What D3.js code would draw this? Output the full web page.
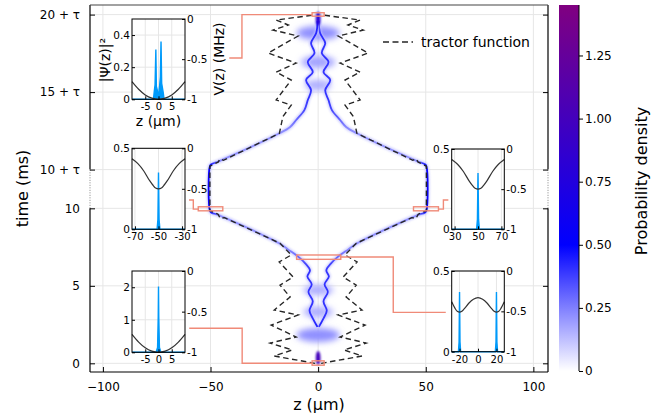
<!DOCTYPE html>
<html><head><meta charset="utf-8">
<script src="https://cdn.jsdelivr.net/npm/d3@7"></script>
<style>body{margin:0;background:#fff}svg{display:block;font-family:"DejaVu Sans",sans-serif}</style>
</head><body><svg id="c" width="652" height="416"></svg>
<script>
// ---------------- data ----------------
const zTicks=[-100,-50,0,50,100];
const tTicks=[0,5,10,12.5,17.5,22.5];
const tTickLabels=["0","5","10","10 + τ","15 + τ","20 + τ"];
const breakT=[10,12.5];
const cbTicks=[0,0.25,0.5,0.75,1.0,1.25];
const cbMax=1.45;

// tractor function (right branch, z in µm, t in ms); left branch is its mirror
const tractorZ=[1.4,20.4,12.1,22.3,10.2,21.8,9.3,20.4,13.0,17.7,11.6,18.1,12.5,17.7,43.5,45.5,46.5,50.3,50.3,46.5,45.5,44.0,18.0,16.4,12.5,19.5,12.5,19.5,10.2,23.2,9.3,20.9,13.9,19.5,2.3];
const tractorT=[0.0,0.47,0.86,1.31,1.70,2.47,3.12,3.44,4.28,5.05,5.57,6.54,6.99,7.74,9.4,9.35,9.62,9.85,12.72,12.98,13.2,13.1,14.84,15.91,16.66,16.99,18.28,18.79,19.37,20.02,21.12,21.5,21.83,22.15,22.47];

// probability-density ridge (right branch) with its density
const strandZ=[0.3,2.5,4.0,2.5,4.5,3.0,5.0,3.8,6.0,9.0,14.0,18.0,46.0,49.6,50.3,50.3,49.6,46.0,18.0,13.0,10.2,6.4,4.8,3.3,5.6,2.5,4.8,1.7,3.3,0.9,0.3];
const strandT=[2.35,2.9,3.4,4.0,4.6,5.1,5.6,6.0,6.45,6.85,7.35,7.74,9.55,9.72,9.85,12.72,12.85,13.05,14.84,15.25,15.7,16.34,16.99,17.63,18.28,18.79,19.44,20.02,20.66,21.31,22.1];
const strandD=[0.45,0.4,0.4,0.4,0.4,0.4,0.4,0.4,0.36,0.3,0.24,0.22,0.22,0.45,0.55,0.55,0.45,0.22,0.22,0.24,0.3,0.36,0.4,0.4,0.4,0.4,0.4,0.4,0.4,0.42,0.45];

// faint breathing lobes (centre t, half-width µm, half-height ms, density)
const blobT=[1.83,3.31,4.73,17.95,19.44,21.31];
const blobW=[10,7,7,6,8,10];
const blobH=[0.45,0.35,0.35,0.35,0.4,0.45];
const blobD=[0.22,0.16,0.16,0.16,0.18,0.22];

// single central column and dense spots
const coreStart=[0,21.8], coreEnd=[2.35,22.5], coreD=[0.55,0.45];
const spotT=[0.35,22.25], spotD=[1.0,0.8];

// marker boxes [z0,z1,t0,t1] and connectors [z,t] pairs
const boxes=[[-2.8,2.8,22.4,22.62],[-2.8,2.8,-0.12,0.16],[-55.7,-44.3,9.84,10.1],[44.3,55.9,9.84,10.1],[-10,10.5,6.71,6.99]];
const connTop=[[-2.8,22.5],[-35.4,22.5],[-35.4,19.7],[-41.3,19.7]];
const connML=[[-60.0,10.54],[-58.0,10.54],[-58.0,9.95],[-55.7,9.95]];
const connMR=[[55.9,9.95],[58.2,9.95],[58.2,10.54],[60.5,10.54]];
const connBL=[[-59.9,2.26],[-35.3,2.26],[-35.3,0.0],[-2.8,0.0]];
const connBR=[[10.5,6.86],[34.9,6.86],[34.9,3.29],[59.3,3.29]];

// inset data
const psiTopZ=[-10,-1.9,-1.6,-1.3,-1.0,-0.8,-0.5,-0.2,0.1,0.4,0.7,0.95,1.2,1.5,1.8,2.1,10];
const psiTopV=[0,0,0.05,0.09,0.31,0.08,0.06,0.02,0.04,0.08,0.14,0.36,0.1,0.07,0.04,0,0];
const psiBotZ=[-10,-0.9,-0.35,-0.1,0,0.1,0.35,0.9,10];
const psiBotV=[0,0,0.15,1.1,2.02,1.1,0.15,0,0];
const psiLZ=[-72.5,-51.2,-50.5,-50,-49.5,-48.8,-27.5];
const psiLV=[0,0,0.06,0.35,0.06,0,0];
const psiRZ=[27.5,48.8,49.5,50,50.5,51.2,72.5];
const psiRV=[0,0,0.06,0.35,0.06,0,0];
const psiSplitZ=[-28.5,-21.2,-20.5,-20,-19.5,-18.8,18.8,19.5,20,20.5,21.2,28.5];
const psiSplitV=[0,0,0.06,0.37,0.06,0,0,0.06,0.37,0.06,0,0];
const potHarmZ=[-10,-7.5,-5,-2.5,0,2.5,5,7.5,10];
const potHarmV=[-0.78,-0.875,-0.945,-0.986,-1,-0.986,-0.945,-0.875,-0.78];
const potLZ=[-72.5,-67.5,-62.5,-57.5,-55,-52.5,-50,-47.5,-45,-42.5,-37.5,-32.5,-27.5];
const potLV=[-0.13,-0.19,-0.28,-0.40,-0.45,-0.49,-0.5,-0.49,-0.45,-0.40,-0.28,-0.19,-0.13];
const potRZ=[27.5,32.5,37.5,42.5,45,47.5,50,52.5,55,57.5,62.5,67.5,72.5];
const potRV=[-0.13,-0.19,-0.28,-0.40,-0.45,-0.49,-0.5,-0.49,-0.45,-0.40,-0.28,-0.19,-0.13];
const potSplitZ=[-28.5,-25,-22.5,-20,-17.5,-15,-10,-5,0,5,10,15,17.5,20,22.5,25,28.5];
const potSplitV=[-0.38,-0.46,-0.50,-0.51,-0.50,-0.47,-0.40,-0.35,-0.33,-0.35,-0.40,-0.47,-0.50,-0.51,-0.50,-0.46,-0.38];

// ---------------- drawing ----------------
const svg=d3.select("#c");
const defs=svg.append("defs");
const X0=90,X1=548,Y0=5,Y1=372;
const x=d3.scaleLinear().domain([-106,106.8]).range([X0,X1]);
const y=d3.scaleLinear().domain([-0.56,23.12]).range([Y1,Y0]);
const color=d3.scaleLinear().domain([0,0.5,cbMax]).range(["#ffffff","#0000ff","#800080"]);
const SALMON="#f08a78";
const fmt=d=>d3.format("~g")(d).replace("−","-");

function blurF(id,s){defs.append("filter").attr("id",id).attr("x","-100%").attr("y","-100%").attr("width","300%").attr("height","300%")
  .append("feGaussianBlur").attr("stdDeviation",s);}
blurF("b3",3.2);blurF("b12",1.2);blurF("b05",0.5);blurF("b1",1.1);
defs.append("clipPath").attr("id","clip").append("rect").attr("x",X0).attr("y",Y0).attr("width",X1-X0).attr("height",Y1-Y0);

// grid
const grid=svg.append("g").attr("stroke","#e6e6e6").attr("stroke-width",1);
grid.selectAll("line.v").data(zTicks).join("line").attr("x1",d=>x(d)).attr("x2",d=>x(d)).attr("y1",Y0).attr("y2",Y1);
grid.selectAll("line.h").data(tTicks).join("line").attr("x1",X0).attr("x2",X1).attr("y1",d=>y(d)).attr("y2",d=>y(d));

// density
const dens=svg.append("g").attr("clip-path","url(#clip)");
const blobs=d3.range(blobT.length);
dens.selectAll("ellipse.blob").data(blobs).join("ellipse")
  .attr("cx",x(0)).attr("cy",i=>y(blobT[i])).attr("rx",i=>x(blobW[i])-x(0)).attr("ry",i=>y(0)-y(blobH[i]))
  .attr("fill",i=>color(blobD[i])).attr("filter","url(#b3)");

const strand=d3.range(strandZ.length);
const ys=y(strandT[0]), ye=y(strandT[strandT.length-1]);
const grad=defs.append("linearGradient").attr("id","sg").attr("gradientUnits","userSpaceOnUse")
  .attr("x1",0).attr("x2",0).attr("y1",ys).attr("y2",ye);
strand.forEach(i=>grad.append("stop").attr("offset",(y(strandT[i])-ys)/(ye-ys)).attr("stop-color",color(strandD[i])));

[1,-1].forEach(s=>{
  const ln=d3.line().x(i=>x(s*strandZ[i])).y(i=>y(strandT[i])).curve(d3.curveCatmullRom.alpha(0.5));
  dens.append("path").attr("d",ln(strand)).attr("fill","none").attr("stroke",color(0.12)).attr("stroke-width",4).attr("opacity",0.8).attr("filter","url(#b12)");
  dens.append("path").attr("d",ln(strand)).attr("fill","none").attr("stroke","url(#sg)").attr("stroke-width",1.8).attr("filter","url(#b05)");
});
// central columns
dens.selectAll("line.core").data(d3.range(coreStart.length)).join("line")
  .attr("x1",x(0)).attr("x2",x(0)).attr("y1",i=>y(coreStart[i])).attr("y2",i=>y(coreEnd[i]))
  .attr("stroke",i=>color(coreD[i])).attr("stroke-width",2.6).attr("filter","url(#b05)");
dens.selectAll("ellipse.spot").data(d3.range(spotT.length)).join("ellipse")
  .attr("cx",x(0)).attr("cy",i=>y(spotT[i])).attr("rx",2.4).attr("ry",i=>y(0)-y(0.45))
  .attr("fill",i=>color(spotD[i])).attr("filter","url(#b1)");

// tractor function
const tr=d3.range(tractorZ.length);
[1,-1].forEach(s=>{
  dens.append("path").attr("d",d3.line().x(i=>x(s*tractorZ[i])).y(i=>y(tractorT[i]))(tr))
    .attr("fill","none").attr("stroke","#262626").attr("stroke-width",1.4).attr("stroke-dasharray","5.5,3.5");
});

// marker boxes and connectors
const ann=svg.append("g").attr("fill","none").attr("stroke",SALMON).attr("stroke-width",1.4);
ann.selectAll("rect").data(boxes).join("rect")
  .attr("x",b=>x(b[0])).attr("width",b=>x(b[1])-x(b[0])).attr("y",b=>y(b[3])).attr("height",b=>y(b[2])-y(b[3]));
const cl=d3.line().x(p=>x(p[0])).y(p=>y(p[1]));
[connTop,connML,connMR,connBL,connBR].forEach(c=>ann.append("path").attr("d",cl(c)));

// frame
const fr=svg.append("g").attr("stroke","#000").attr("stroke-width",1.2).attr("fill","none");
[X0,X1].forEach(xx=>{
  fr.append("line").attr("x1",xx).attr("x2",xx).attr("y1",Y1).attr("y2",y(breakT[0]));
  fr.append("line").attr("x1",xx).attr("x2",xx).attr("y1",y(breakT[1])).attr("y2",Y0);
  fr.append("line").attr("x1",xx).attr("x2",xx).attr("y1",y(breakT[0])).attr("y2",y(breakT[1]))
    .attr("stroke","#777").attr("stroke-width",0.9).attr("stroke-dasharray","1,1.5");
});
fr.append("line").attr("x1",X0).attr("x2",X1).attr("y1",Y1).attr("y2",Y1);
fr.append("line").attr("x1",X0).attr("x2",X1).attr("y1",Y0).attr("y2",Y0).attr("stroke","#444");

// axes
function styleAxis(g,fs){g.select(".domain").remove();g.selectAll("line").attr("stroke","#000");
  g.selectAll("text").attr("font-size",fs).attr("fill","#000").attr("font-family","DejaVu Sans");}
svg.append("g").attr("transform",`translate(0,${Y1})`)
  .call(d3.axisBottom(x).tickValues(zTicks).tickSize(-5).tickPadding(10)).call(g=>styleAxis(g,12));
svg.append("g").attr("transform",`translate(${X0},0)`)
  .call(d3.axisLeft(y).tickValues(tTicks).tickFormat((d,i)=>tTickLabels[i]).tickSize(-5).tickPadding(10)).call(g=>styleAxis(g,12));
svg.append("g").attr("transform",`translate(${X1},0)`)
  .call(d3.axisRight(y).tickValues(tTicks).tickFormat("").tickSize(-5)).call(g=>styleAxis(g,12));

svg.append("text").attr("x",(X0+X1)/2).attr("y",410).attr("text-anchor","middle").attr("font-size",16).text("z (μm)");
svg.append("text").attr("transform",`translate(28,${(Y0+Y1)/2}) rotate(-90)`).attr("text-anchor","middle").attr("font-size",16).text("time (ms)");

// legend
svg.append("line").attr("x1",383).attr("x2",413).attr("y1",42).attr("y2",42).attr("stroke","#262626").attr("stroke-width",1.5).attr("stroke-dasharray","6,3.5");
svg.append("text").attr("x",421).attr("y",47).attr("font-size",14).text("tractor function");

// insets
function inset(o){
  const gx=d3.scaleLinear().domain(o.xd).range([o.x0,o.x1]);
  const gl=d3.scaleLinear().domain(o.yd).range([o.y1,o.y0]);
  const gr=d3.scaleLinear().domain([-1,0]).range([o.y1,o.y0]);
  const g=svg.append("g");
  g.append("rect").attr("x",o.x0).attr("y",o.y0).attr("width",o.x1-o.x0).attr("height",o.y1-o.y0).attr("fill","#fff");
  g.selectAll("line.gv").data(o.xt).join("line").attr("x1",d=>gx(d)).attr("x2",d=>gx(d)).attr("y1",o.y0).attr("y2",o.y1).attr("stroke","#e6e6e6");
  g.selectAll("line.gh").data(o.yt).join("line").attr("x1",o.x0).attr("x2",o.x1).attr("y1",d=>gl(d)).attr("y2",d=>gl(d)).attr("stroke","#e6e6e6");
  const pi=d3.range(o.pz.length);
  g.append("path").attr("d",d3.area().x(i=>gx(o.pz[i])).y0(gl(0)).y1(i=>gl(o.pv[i]))(pi)).attr("fill","#009afa");
  g.append("path").attr("d",d3.line().x(i=>gx(o.pz[i])).y(i=>gl(o.pv[i]))(pi)).attr("fill","none").attr("stroke","#009afa").attr("stroke-width",1.4);
  const vi=d3.range(o.vz.length);
  g.append("path").attr("d",d3.line().x(i=>gx(o.vz[i])).y(i=>gr(o.vv[i])).curve(d3.curveMonotoneX)(vi)).attr("fill","none").attr("stroke","#333").attr("stroke-width",1.2);
  g.append("rect").attr("x",o.x0).attr("y",o.y0).attr("width",o.x1-o.x0).attr("height",o.y1-o.y0).attr("fill","none").attr("stroke","#000").attr("stroke-width",1);
  g.append("g").attr("transform",`translate(0,${o.y1})`).call(d3.axisBottom(gx).tickValues(o.xt).tickFormat(fmt).tickSize(-3).tickPadding(4)).call(a=>styleAxis(a,10));
  g.append("g").attr("transform",`translate(${o.x0},0)`).call(d3.axisLeft(gl).tickValues(o.yt).tickFormat(fmt).tickSize(-3).tickPadding(2)).call(a=>styleAxis(a,10.5));
  g.append("g").attr("transform",`translate(${o.x1},0)`).call(d3.axisRight(gr).tickValues([-1,-0.5,0]).tickFormat(fmt).tickSize(-3).tickPadding(2)).call(a=>styleAxis(a,10.5));
  return g;
}
inset({x0:132,x1:185,y0:19,y1:99.3,xd:[-10,10],xt:[-5,0,5],yd:[0,0.5],yt:[0,0.2,0.4],pz:psiTopZ,pv:psiTopV,vz:potHarmZ,vv:potHarmV});
inset({x0:132,x1:185,y0:148.3,y1:229.3,xd:[-72.5,-27.5],xt:[-70,-50,-30],yd:[0,0.5],yt:[0,0.5],pz:psiLZ,pv:psiLV,vz:potLZ,vv:potLV});
inset({x0:132,x1:185,y0:271,y1:352.3,xd:[-10,10],xt:[-5,0,5],yd:[0,2.5],yt:[0,1,2],pz:psiBotZ,pv:psiBotV,vz:potHarmZ,vv:potHarmV});
inset({x0:451.7,x1:504.3,y0:149,y1:229.3,xd:[27.5,72.5],xt:[30,50,70],yd:[0,0.5],yt:[0,0.5],pz:psiRZ,pv:psiRV,vz:potRZ,vv:potRV});
inset({x0:451.7,x1:504.3,y0:271,y1:351.7,xd:[-28.5,28.5],xt:[-20,0,20],yd:[0,0.5],yt:[0,0.5],pz:psiSplitZ,pv:psiSplitV,vz:potSplitZ,vv:potSplitV});
svg.append("text").attr("x",158.5).attr("y",126).attr("text-anchor","middle").attr("font-size",14).text("z (μm)");
svg.append("text").attr("transform","translate(110,60) rotate(-90)").attr("text-anchor","middle").attr("font-size",14).text("|Ψ(z)|²");
svg.append("text").attr("transform","translate(224,59) rotate(-90)").attr("text-anchor","middle").attr("font-size",14).text("V(z) (MHz)");

// colorbar
const CB0=559,CB1=579,cbY=d3.scaleLinear().domain([0,cbMax]).range([371,5]);
const cg=defs.append("linearGradient").attr("id","cbg").attr("x1",0).attr("x2",0).attr("y1",1).attr("y2",0);
color.domain().forEach(v=>cg.append("stop").attr("offset",v/cbMax).attr("stop-color",color(v)));
svg.append("rect").attr("x",CB0).attr("y",5).attr("width",CB1-CB0).attr("height",366).attr("fill","url(#cbg)");
svg.append("g").attr("transform",`translate(${CB1},0)`)
  .call(d3.axisRight(cbY).tickValues(cbTicks).tickFormat(d=>d===0?"0":d3.format(".2f")(d)).tickSize(4).tickPadding(2))
  .call(g=>{styleAxis(g,12);
    g.insert("line",":first-child").attr("x1",0).attr("x2",0).attr("y1",5).attr("y2",371).attr("stroke","#000");});
svg.append("text").attr("transform",`translate(647,181) rotate(-90)`).attr("text-anchor","middle").attr("font-size",16).text("Probability density");
</script></body></html>
